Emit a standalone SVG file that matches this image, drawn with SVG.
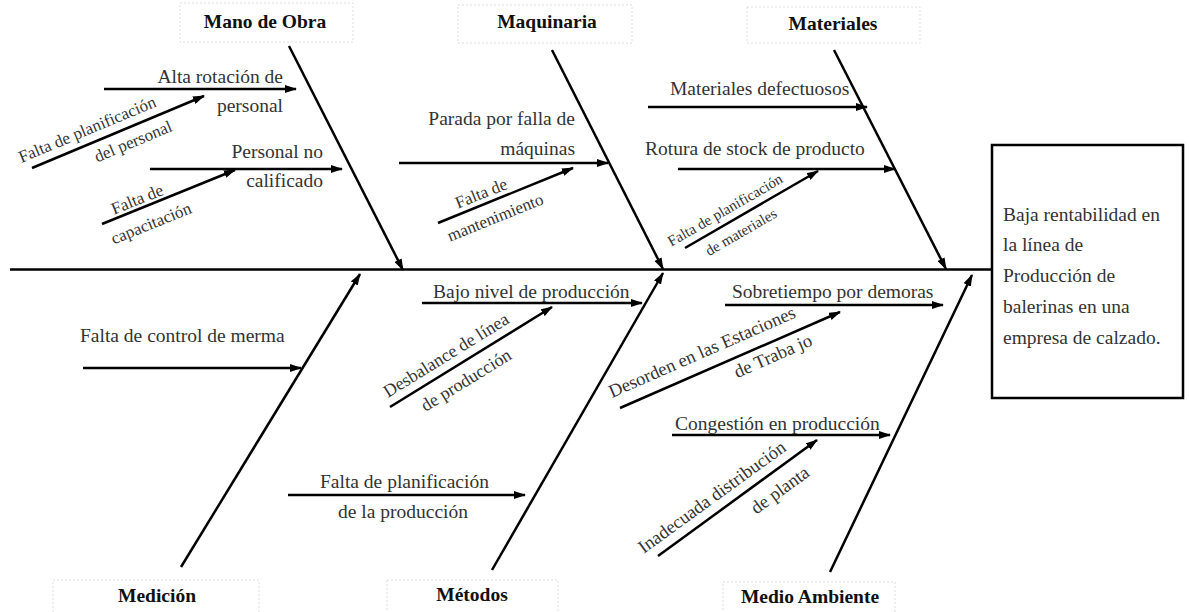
<svg xmlns="http://www.w3.org/2000/svg" width="1189" height="612" viewBox="0 0 1189 612">
<style>
.t{font-family:"Liberation Serif","Times New Roman",serif;font-size:19.5px;fill:#333}
.b{font-family:"Liberation Serif","Times New Roman",serif;font-size:19.5px;font-weight:bold;fill:#111;text-anchor:middle}
.r{font-family:"Liberation Serif","Times New Roman",serif;fill:#333;text-anchor:middle}
.ln{stroke:#000;stroke-width:2.5;fill:none}
.ar{stroke:#000;stroke-width:2.5;fill:none;marker-end:url(#ah)}
.lb{fill:none;stroke:#ddd;stroke-width:1;stroke-dasharray:2,2}
</style>
<defs>
<marker id="ah" markerWidth="12" markerHeight="8" refX="11" refY="4" orient="auto" markerUnits="userSpaceOnUse"><path d="M0,0 L12,4 L0,8 z" fill="#000"/></marker>
</defs>
<rect width="1189" height="612" fill="#fff"/>
<g id="connectors">
<path class="ln" d="M10,269.5 L992,269.5"/>
<path class="ar" d="M289,46 L403,270"/>
<path class="ar" d="M552,50 L663,269"/>
<path class="ar" d="M834,50 L946,269"/>
<path class="ar" d="M181,567 L360,274"/>
<path class="ar" d="M492,570 L663,273"/>
<path class="ar" d="M830,572 L972,275"/>
<path class="ar" d="M104,89 L296,89"/>
<path class="ar" d="M32,168 L204,96"/>
<path class="ar" d="M150,169 L342,169"/>
<path class="ar" d="M102,224 L235,170"/>
<path class="ar" d="M399,163 L608,163"/>
<path class="ar" d="M438,223 L573,168"/>
<path class="ar" d="M648,107 L867,107"/>
<path class="ar" d="M678,169 L895,169"/>
<path class="ar" d="M685,248 L818,171"/>
<path class="ar" d="M83,368 L301,368"/>
<path class="ar" d="M422,303 L642,303"/>
<path class="ar" d="M390,407 L552,307"/>
<path class="ar" d="M288,495 L525,495"/>
<path class="ar" d="M725,305 L943,305"/>
<path class="ar" d="M620,408 L840,312"/>
<path class="ar" d="M672,435 L890,435"/>
<path class="ar" d="M658,556 L817,440"/>
</g>
<g id="effect">
<rect x="992" y="145" width="191" height="253" fill="#fff" stroke="#000" stroke-width="2.5"/>
<text class="t" x="1003" y="221">Baja rentabilidad en</text>
<text class="t" x="1003" y="251">la línea de</text>
<text class="t" x="1003" y="282">Producción de</text>
<text class="t" x="1003" y="313">balerinas en una</text>
<text class="t" x="1003" y="344">empresa de calzado.</text>
</g>
<g id="cat-mano-de-obra">
<rect class="lb" x="180" y="3" width="173" height="39"/>
<text class="b" x="265" y="28">Mano de Obra</text>
</g>
<g id="cat-maquinaria">
<rect class="lb" x="458" y="5" width="174" height="38"/>
<text class="b" x="547" y="28">Maquinaria</text>
</g>
<g id="cat-materiales">
<rect class="lb" x="747" y="7" width="173" height="36"/>
<text class="b" x="833" y="30">Materiales</text>
</g>
<g id="cat-medicion">
<rect class="lb" x="53" y="580" width="206" height="34"/>
<text class="b" x="157" y="602">Medición</text>
</g>
<g id="cat-metodos">
<rect class="lb" x="387" y="580" width="171" height="34"/>
<text class="b" x="472" y="601">Métodos</text>
</g>
<g id="cat-medio-ambiente">
<rect class="lb" x="723" y="582" width="172" height="32"/>
<text class="b" x="810" y="603">Medio Ambiente</text>
</g>
<g id="cause-alta-rotacion">
<text class="t" x="283" y="83" text-anchor="end">Alta rotación de</text>
<text class="t" x="283" y="112" text-anchor="end">personal</text>
</g>
<g id="cause-falta-planif-personal">
<text class="r" font-size="17" transform="translate(87,129) rotate(-22.7)" y="6">Falta de planificación</text>
<text class="r" font-size="17" transform="translate(133,141) rotate(-22.7)" y="6">del personal</text>
</g>
<g id="cause-personal-no-calificado">
<text class="t" x="323" y="158" text-anchor="end">Personal no</text>
<text class="t" x="323" y="187" text-anchor="end">calificado</text>
</g>
<g id="cause-falta-capacitacion">
<text class="r" font-size="17" transform="translate(137,199) rotate(-22)" y="6">Falta de</text>
<text class="r" font-size="17" transform="translate(151,223) rotate(-22)" y="6">capacitación</text>
</g>
<g id="cause-parada-maquinas">
<text class="t" x="575" y="125" text-anchor="end">Parada por falla de</text>
<text class="t" x="575" y="155" text-anchor="end">máquinas</text>
</g>
<g id="cause-falta-mantenimiento">
<text class="r" font-size="17" transform="translate(481,193) rotate(-22)" y="6">Falta de</text>
<text class="r" font-size="17" transform="translate(495,217) rotate(-22)" y="6">mantenimiento</text>
</g>
<g id="cause-materiales-defectuosos">
<text class="t" x="670" y="95">Materiales  defectuosos</text>
</g>
<g id="cause-rotura-stock">
<text class="t" x="645" y="155">Rotura de stock de producto</text>
</g>
<g id="cause-falta-planif-materiales">
<text class="r" font-size="15" transform="translate(725,210) rotate(-30)" y="5">Falta de planificación</text>
<text class="r" font-size="15" transform="translate(741,232) rotate(-30)" y="5">de materiales</text>
</g>
<g id="cause-control-merma">
<text class="t" x="80" y="342">Falta de control de merma</text>
</g>
<g id="cause-bajo-nivel">
<text class="t" x="433" y="298">Bajo nivel  de producción</text>
</g>
<g id="cause-desbalance">
<text class="r" font-size="18" transform="translate(446,355) rotate(-31.7)" y="6">Desbalance de línea</text>
<text class="r" font-size="18" transform="translate(466,380) rotate(-31.7)" y="6">de producción</text>
</g>
<g id="cause-falta-planif-produccion">
<text class="t" x="320" y="488">Falta de planificación</text>
<text class="t" x="338" y="518">de la producción</text>
</g>
<g id="cause-sobretiempo">
<text class="t" x="732" y="298">Sobretiempo por demoras</text>
</g>
<g id="cause-desorden">
<text class="r" font-size="18.5" transform="translate(702,352) rotate(-23.6)" y="6">Desorden en las Estaciones</text>
<text class="r" font-size="18.5" transform="translate(773,356) rotate(-23.6)" y="6">de Traba jo</text>
</g>
<g id="cause-congestion">
<text class="t" x="675" y="430">Congestión en producción</text>
</g>
<g id="cause-inadecuada">
<text class="r" font-size="18.5" transform="translate(712,497) rotate(-36)" y="6">Inadecuada distribución</text>
<text class="r" font-size="18.5" transform="translate(780,490) rotate(-36)" y="6">de planta</text>
</g>
</svg>
